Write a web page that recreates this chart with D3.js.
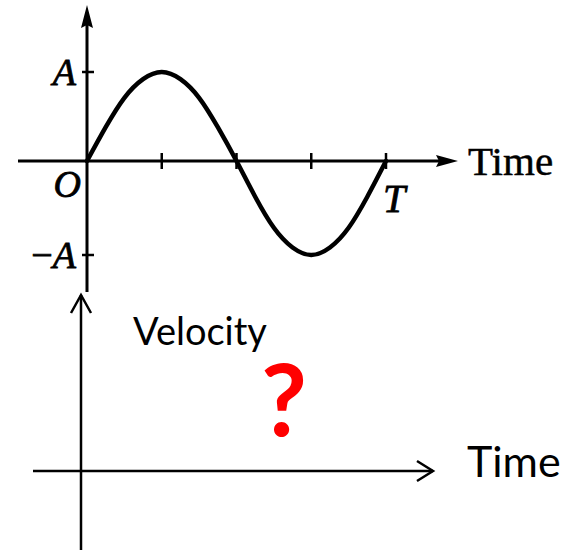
<!DOCTYPE html>
<html>
<head>
<meta charset="utf-8">
<script src="https://cdn.jsdelivr.net/npm/d3@7"></script>
<style>
  body { margin: 0; background: #fff; }
  svg { display: block; }
</style>
</head>
<body>
<svg id="chart" width="561" height="550"></svg>
<script>
// displacement, one period, phase as fraction of T
const phase = [0, 0.0625, 0.125, 0.1875, 0.25, 0.3125, 0.375, 0.4375, 0.5,
  0.5625, 0.625, 0.6875, 0.75, 0.8125, 0.875, 0.9375, 1];
const displacement = [0, 0.38, 0.71, 0.92, 1, 0.92, 0.71, 0.38, 0,
  -0.38, -0.71, -0.92, -1, -0.92, -0.71, -0.38, 0];
const timeTicks = [0.25, 0.5, 0.75, 1];
const ampTicks = [1, -1];

const svg = d3.select('#chart');

// ---- top: displacement vs time ----
const x = d3.scaleLinear().domain([0, 1]).range([87, 386]);
const y = d3.scaleLinear().domain([-1, 0, 1]).range([255, 161, 72]);

const upper = svg.append('g');

// horizontal axis + arrow
upper.append('line')
  .attr('x1', 18).attr('x2', 440)
  .attr('y1', y(0)).attr('y2', y(0))
  .attr('stroke', '#000').attr('stroke-width', 3);
upper.append('path')
  .attr('d', `M458,${y(0)} L436,${y(0) - 6} L439,${y(0)} L436,${y(0) + 6} Z`)
  .attr('fill', '#000');

// vertical axis + arrow
upper.append('line')
  .attr('x1', x(0)).attr('x2', x(0))
  .attr('y1', 292).attr('y2', 22)
  .attr('stroke', '#000').attr('stroke-width', 3);
upper.append('path')
  .attr('d', `M${x(0)},5 L${x(0) - 6},28 L${x(0)},25 L${x(0) + 6},28 Z`)
  .attr('fill', '#000');

// ticks
upper.selectAll('.xtick')
  .data(timeTicks)
  .enter().append('line')
  .attr('class', 'xtick')
  .attr('x1', d => x(d)).attr('x2', d => x(d))
  .attr('y1', y(0) - 8).attr('y2', y(0) + 8)
  .attr('stroke', '#000').attr('stroke-width', 2.5);

upper.selectAll('.ytick')
  .data(ampTicks)
  .enter().append('line')
  .attr('class', 'ytick')
  .attr('x1', x(0) - 5).attr('x2', x(0) + 7)
  .attr('y1', d => y(d)).attr('y2', d => y(d))
  .attr('stroke', '#000').attr('stroke-width', 2.5);

// the wave
const line = d3.line()
  .x((d, i) => x(phase[i]))
  .y(d => y(d))
  .curve(d3.curveNatural);

upper.append('path')
  .datum(displacement)
  .attr('d', line)
  .attr('fill', 'none')
  .attr('stroke', '#000')
  .attr('stroke-width', 4.5)
  .attr('stroke-linecap', 'round');

// labels (a thin stroke mimics the heavy print of the scan)
const serif = '"Liberation Serif", "DejaVu Serif", serif';
function label(g, px, py, size, txt) {
  return g.append('text')
    .attr('x', px).attr('y', py)
    .style('font-family', serif).style('font-style', 'italic')
    .style('font-size', size + 'px')
    .attr('stroke', '#000').attr('stroke-width', 0.8)
    .text(txt);
}

label(upper, x(0) - 11, y(1) + 13, 38, 'A').attr('text-anchor', 'end');

const negA = upper.append('text')
  .attr('x', x(0) - 11).attr('y', y(-1) + 13)
  .attr('text-anchor', 'end')
  .style('font-family', serif).style('font-size', '38px')
  .attr('stroke', '#000').attr('stroke-width', 0.8);
negA.append('tspan').text('−');
negA.append('tspan').style('font-style', 'italic').text('A');

label(upper, x(0) - 6, 197, 38, 'O').attr('text-anchor', 'end');
label(upper, x(1) - 3, 212, 40, 'T');

upper.append('text')
  .attr('x', 468).attr('y', 175)
  .style('font-family', serif)
  .style('font-size', '41px')
  .attr('stroke', '#000').attr('stroke-width', 0.5)
  .text('Time');

// ---- bottom: empty velocity axes ----
const vx = d3.scaleLinear().domain([0, 1]).range([81, 433]);
const vy = d3.scaleLinear().domain([0, 1]).range([471, 295]);
const lower = svg.append('g');

lower.append('line')
  .attr('x1', 33).attr('x2', vx(1))
  .attr('y1', vy(0)).attr('y2', vy(0))
  .attr('stroke', '#000').attr('stroke-width', 2.5);
lower.append('path')
  .attr('d', `M${vx(1) - 16},${vy(0) - 10} L${vx(1)},${vy(0)} L${vx(1) - 16},${vy(0) + 10}`)
  .attr('fill', 'none').attr('stroke', '#000').attr('stroke-width', 2.5);

lower.append('line')
  .attr('x1', vx(0)).attr('x2', vx(0))
  .attr('y1', 550).attr('y2', vy(1))
  .attr('stroke', '#000').attr('stroke-width', 2.5);
lower.append('path')
  .attr('d', `M${vx(0) - 10},${vy(1) + 18} L${vx(0)},${vy(1)} L${vx(0) + 10},${vy(1) + 18}`)
  .attr('fill', 'none').attr('stroke', '#000').attr('stroke-width', 2.5);

const sans = 'Lato, "Open Sans", sans-serif';
lower.append('text')
  .attr('x', 133).attr('y', 345)
  .style('font-family', sans).style('font-size', '38px')
  .text('Velocity');

lower.append('text')
  .attr('x', 261).attr('y', 436)
  .style('font-family', sans).style('font-weight', 'bold')
  .style('font-size', '100px').attr('fill', '#ff0000')
  .text('?');

lower.append('text')
  .attr('x', 467).attr('y', 477)
  .style('font-family', sans).style('font-size', '43px')
  .text('Time');
</script>
</body>
</html>
